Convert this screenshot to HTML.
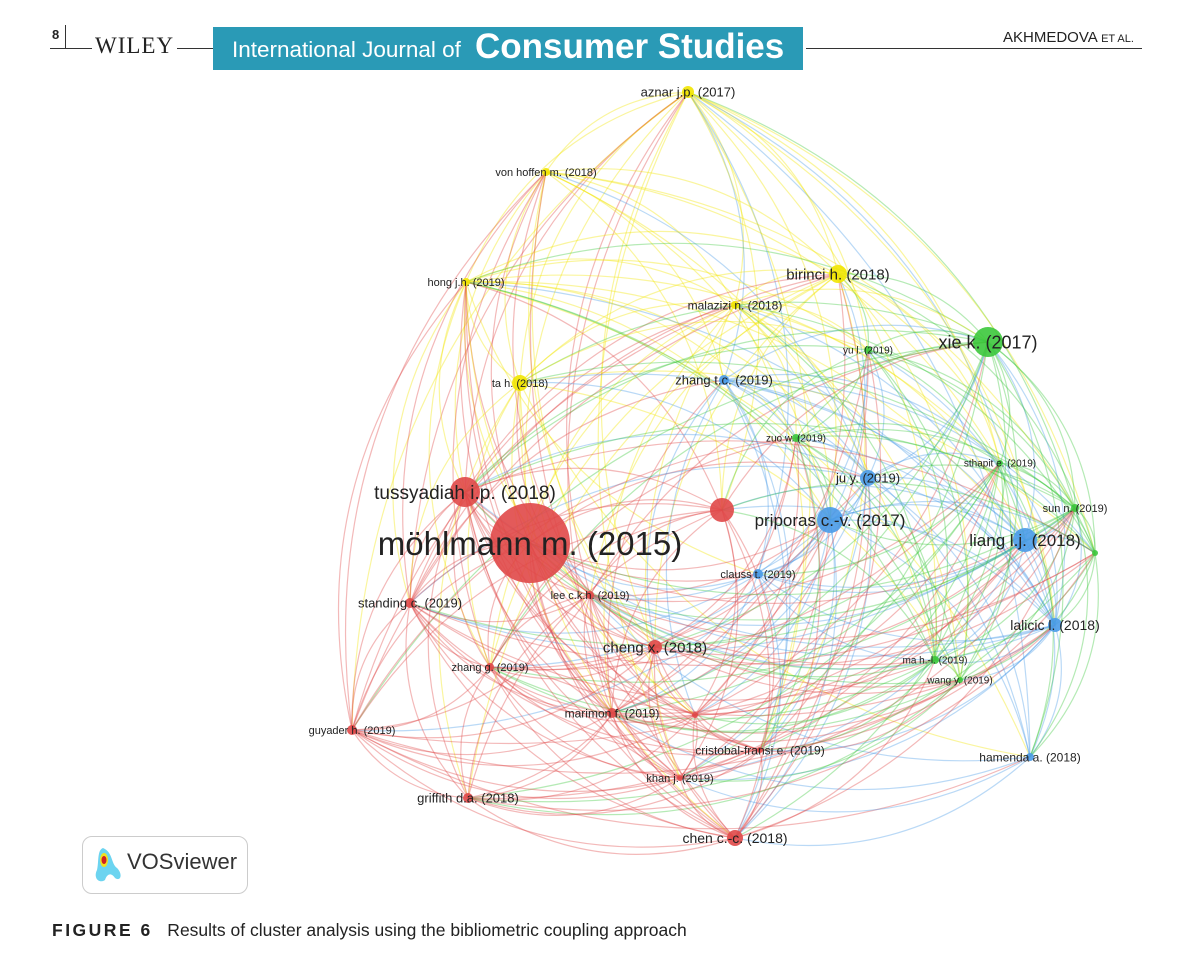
<!DOCTYPE html>
<html><head><meta charset="utf-8">
<style>
html,body{margin:0;padding:0;background:#fff;}
body{width:1200px;height:957px;position:relative;overflow:hidden;font-family:"Liberation Sans",sans-serif;}
.abs{position:absolute;}
</style></head><body>
<div class="abs" style="left:52px;top:27px;font-size:13px;font-weight:bold;color:#222">8</div>
<div class="abs" style="left:65px;top:25px;width:1px;height:24px;background:#333"></div>
<div class="abs" style="left:50px;top:48px;width:165px;height:1px;background:#333"></div>
<div class="abs" style="left:92px;top:33px;font-family:'Liberation Serif',serif;font-size:23px;color:#222;background:#fff;padding:0 3px;letter-spacing:1px">WILEY</div>
<div class="abs" style="left:213px;top:27px;width:590px;height:43px;background:#2a9ab6;color:#fff;white-space:nowrap">
 <span style="position:absolute;left:19px;top:10px;font-size:22.5px;">International Journal of</span>
 <span style="position:absolute;left:262px;top:0px;font-size:35px;font-weight:bold;">Consumer Studies</span>
</div>
<div class="abs" style="left:806px;top:48px;width:336px;height:1px;background:#333"></div>
<div class="abs" style="left:1003px;top:29px;font-size:15px;color:#222;white-space:nowrap">AKHMEDOVA <span style="font-size:11px">ET AL.</span></div>

<svg id="net" class="abs" style="left:0;top:0" width="1200" height="957"></svg>

<div class="abs" style="left:82px;top:836px;width:164px;height:56px;border:1.5px solid #ccc;border-radius:10px;background:#fff"></div>
<svg class="abs" style="left:93px;top:844px" width="30" height="42"><path d="M10 4 C4 6 6 18 4 26 C0 34 6 40 12 36 C14 30 18 28 22 34 C28 38 30 30 24 24 C18 20 20 8 10 4Z" fill="#6cd4f0"/><ellipse cx="11" cy="16" rx="4" ry="7" fill="#f0e020"/><ellipse cx="11" cy="16" rx="2.5" ry="4" fill="#d02020"/></svg>
<div class="abs" style="left:127px;top:849px;font-size:22px;color:#333">VOSviewer</div>
<div class="abs" style="left:52px;top:920px;font-size:17.5px;color:#222;white-space:nowrap"><b style="letter-spacing:2.5px">FIGURE 6</b>&nbsp;&nbsp; Results of cluster analysis using the bibliometric coupling approach</div>

<script>
var Y='#f2e600',B='#4a9be8',G='#3cc83c',R='#e04848';
var N=[
[688,92,6,Y,'aznar j.p. (2017)',13],[546,172,4,Y,'von hoffen m. (2018)',11],[466,282,4,Y,'hong j.h. (2019)',11],
[838,274,9,Y,'birinci h. (2018)',15],[735,305,4,Y,'malazizi n. (2018)',12],[520,383,8,Y,'ta h. (2018)',11],
[724,380,5,B,'zhang t.c. (2019)',13],[868,478,8,B,'ju y. (2019)',13],[830,520,13,B,'priporas c.-v. (2017)',17],
[1025,540,12,B,'liang l.j. (2018)',17],[758,574,5,B,'clauss t. (2019)',11],[1055,625,7,B,'lalicic l. (2018)',14],[1030,757,4,B,'hamenda a. (2018)',12],
[988,342,15,G,'xie k. (2017)',18],[868,350,4,G,'yu l. (2019)',10],[796,438,4,G,'zuo w. (2019)',10],[1000,463,3,G,'sthapit e. (2019)',10],
[1075,508,4,G,'sun n. (2019)',11],[935,660,4,G,'ma h.-l. (2019)',10],[960,680,3,G,'wang y. (2019)',10],[1095,553,3,G,'',10],
[530,543,40,R,'möhlmann m. (2015)',33],[465,492,15,R,'tussyadiah i.p. (2018)',19],[722,510,12,R,'',10],[590,595,4,R,'lee c.k.h. (2019)',11],
[410,603,5,R,'standing c. (2019)',13],[655,647,7,R,'cheng x. (2018)',15],[490,667,4,R,'zhang g. (2019)',11],[612,713,5,R,'marimon f. (2019)',12],
[695,715,3,R,'',10],[352,730,5,R,'guyader h. (2019)',11],[760,750,3,R,'cristobal-fransi e. (2019)',12],[680,778,3,R,'khan j. (2019)',11],
[468,798,5,R,'griffith d.a. (2018)',13],[735,838,8,R,'chen c.-c. (2018)',14]];
var s='';var seed=7;function rnd(){seed=(seed*9301+49297)%233280;return seed/233280;}
for(var i=0;i<N.length;i++)for(var j=i+1;j<N.length;j++){
 var a=N[i],b=N[j];var p=(a[3]==b[3])?0.95:0.6;if(rnd()>p)continue;
 var mx=(a[0]+b[0])/2,my=(a[1]+b[1])/2,dx=b[0]-a[0],dy=b[1]-a[1];
 var k=0.25;var cx=mx-dy*k,cy=my+dx*k;
 var c2x=mx+dy*k,c2y=my-dx*k;
 if((c2x-720)*(c2x-720)+(c2y-520)*(c2y-520)>(cx-720)*(cx-720)+(cy-520)*(cy-520)){cx=c2x;cy=c2y;}
 var col=rnd()<0.5?a[3]:b[3];
 s+='<path d="M'+a[0]+' '+a[1]+' Q'+cx.toFixed(1)+' '+cy.toFixed(1)+' '+b[0]+' '+b[1]+'" stroke="'+col+'" stroke-opacity="0.38" fill="none" stroke-width="1.2"/>';
}
for(var i=0;i<N.length;i++){var n=N[i];s+='<circle cx="'+n[0]+'" cy="'+n[1]+'" r="'+n[2]+'" fill="'+n[3]+'" fill-opacity="0.9"/>';}
for(var i=0;i<N.length;i++){var n=N[i];if(!n[4])continue;
 s+='<text x="'+n[0]+'" y="'+(n[1]+n[5]*0.36)+'" text-anchor="middle" font-family="Liberation Sans,sans-serif" font-size="'+n[5]+'" fill="#222">'+n[4]+'</text>';}
document.getElementById('net').innerHTML=s;
</script>
</body></html>
